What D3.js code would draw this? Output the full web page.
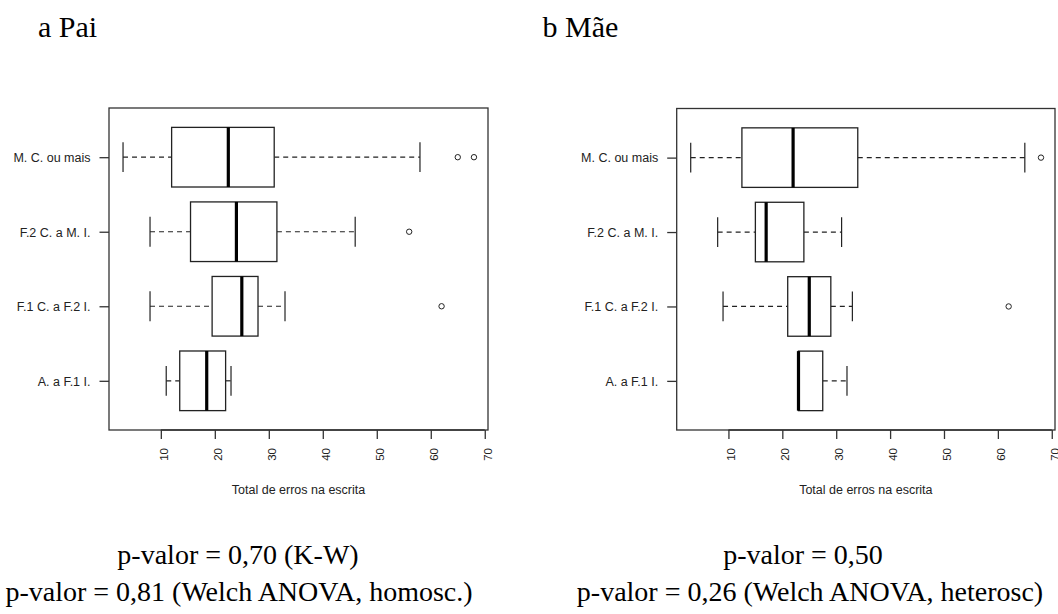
<!DOCTYPE html>
<html>
<head>
<meta charset="utf-8">
<script src="https://cdn.jsdelivr.net/npm/d3@7"></script>
<style>
  html, body { margin: 0; padding: 0; background: #fff; }
  svg { display: block; }
</style>
</head>
<body>
<svg id="chart" width="1058" height="614"></svg>
<script>
// ---------- data ----------
const categories = ["A. a F.1 I.", "F.1 C. a F.2 I.", "F.2 C. a M. I.", "M. C. ou mais"];
const xTicks = [10, 20, 30, 40, 50, 60, 70];

// Pai (father)
const paiLow    = [11, 8, 8, 3];
const paiQ1     = [13.5, 19.5, 15.5, 12];
const paiMedian = [18.5, 25, 24, 22.5];
const paiQ3     = [22, 28, 31.5, 31];
const paiHigh   = [23, 33, 46, 58];
const paiOut    = [[], [62], [56], [65, 68]];

// Mãe (mother)
const maeLow    = [23, 9, 8, 3];
const maeQ1     = [23, 21, 15, 12.5];
const maeMedian = [23, 25, 17, 22];
const maeQ3     = [27.5, 29, 24, 34];
const maeHigh   = [32, 33, 31, 65];
const maeOut    = [[], [62], [], [68]];

const panelTitles = ["a Pai", "b Mãe"];
const xLabel = "Total de erros na escrita";
const pLines = [
  ["p-valor = 0,70 (K-W)", "p-valor = 0,81 (Welch ANOVA, homosc.)"],
  ["p-valor = 0,50", "p-valor = 0,26 (Welch ANOVA, heterosc)"]
];

// ---------- drawing ----------
const svg = d3.select("#chart");
svg.append("rect").attr("width", 1058).attr("height", 614).attr("fill", "#fff");

const panels = [
  { left: 109, right: 488, top: 108, bottom: 430, titleX: 38, pCenters: [238, 239],
    low: paiLow, q1: paiQ1, med: paiMedian, q3: paiQ3, high: paiHigh, out: paiOut },
  { left: 676.7, right: 1055, top: 108.5, bottom: 430, titleX: 542.5, pCenters: [803, 810],
    low: maeLow, q1: maeQ1, med: maeMedian, q3: maeQ3, high: maeHigh, out: maeOut }
];

const lineCol = "#222";

panels.forEach((p, pi) => {
  const x = d3.scaleLinear().domain([0.4, 70.6]).range([p.left, p.right]);
  const y = d3.scaleLinear().domain([0.34, 4.66]).range([p.bottom, p.top]);
  const half = (y(0) - y(0.4));   // box half height (boxwex 0.8)
  const stapleHalf = half / 2;

  const g = svg.append("g");

  // boxes
  categories.forEach((c, i) => {
    const cy = y(i + 1);
    // whiskers (dashed)
    g.append("line").attr("x1", x(p.low[i])).attr("x2", x(p.q1[i]))
      .attr("y1", cy).attr("y2", cy)
      .attr("stroke", lineCol).attr("stroke-width", 1.2).attr("stroke-dasharray", "5,4");
    g.append("line").attr("x1", x(p.q3[i])).attr("x2", x(p.high[i]))
      .attr("y1", cy).attr("y2", cy)
      .attr("stroke", lineCol).attr("stroke-width", 1.2).attr("stroke-dasharray", "5,4");
    // staples
    [p.low[i], p.high[i]].forEach(v => {
      if (v === p.q1[i] || v === p.q3[i]) return;
      g.append("line").attr("x1", x(v)).attr("x2", x(v))
        .attr("y1", cy - stapleHalf).attr("y2", cy + stapleHalf)
        .attr("stroke", lineCol).attr("stroke-width", 1.2);
    });
    // box
    g.append("rect").attr("x", x(p.q1[i])).attr("y", cy - half)
      .attr("width", x(p.q3[i]) - x(p.q1[i])).attr("height", 2 * half)
      .attr("fill", "#fff").attr("stroke", lineCol).attr("stroke-width", 1.3);
    // median
    g.append("line").attr("x1", x(p.med[i])).attr("x2", x(p.med[i]))
      .attr("y1", cy - half).attr("y2", cy + half)
      .attr("stroke", "#000").attr("stroke-width", 3.2);
    // outliers
    p.out[i].forEach(v => {
      g.append("circle").attr("cx", x(v)).attr("cy", cy).attr("r", 2.7)
        .attr("fill", "none").attr("stroke", lineCol).attr("stroke-width", 1);
    });
  });

  // frame
  g.append("rect").attr("x", p.left).attr("y", p.top)
    .attr("width", p.right - p.left).attr("height", p.bottom - p.top)
    .attr("fill", "none").attr("stroke", "#333").attr("stroke-width", 1.3);

  // x axis
  const xAxis = d3.axisBottom(x).tickValues(xTicks).tickSize(9).tickSizeOuter(0).tickFormat(d3.format("d"));
  const xa = g.append("g").attr("transform", `translate(0,${p.bottom})`).call(xAxis);
  xa.select(".domain").attr("d", `M${x(xTicks[0])},0H${x(xTicks[xTicks.length - 1])}`)
    .attr("stroke", "#333").attr("stroke-width", 1.3);
  xa.selectAll(".tick line").attr("stroke", "#333").attr("stroke-width", 1.3);
  xa.selectAll(".tick text")
    .attr("font-family", "Liberation Sans, Arial, sans-serif").attr("font-size", 11.5)
    .attr("fill", "#222")
    .attr("text-anchor", "end")
    .attr("transform", "translate(2.5,18) rotate(-90)")
    .attr("x", 0).attr("y", 0).attr("dy", "0.35em");

  // y axis
  const yAxis = d3.axisLeft(y).tickValues([1, 2, 3, 4]).tickSize(9.5).tickSizeOuter(0)
    .tickFormat(d => categories[d - 1]);
  const ya = g.append("g").attr("transform", `translate(${p.left},0)`).call(yAxis);
  ya.select(".domain").remove();
  ya.selectAll(".tick line").attr("stroke", "#333").attr("stroke-width", 1.3);
  ya.selectAll(".tick text")
    .attr("font-family", "Liberation Sans, Arial, sans-serif").attr("font-size", 12.5)
    .attr("fill", "#222")
    .attr("x", -18.5).attr("dy", "0.35em");

  // x label
  g.append("text").attr("x", (p.left + p.right) / 2).attr("y", 494)
    .attr("text-anchor", "middle")
    .attr("font-family", "Liberation Sans, Arial, sans-serif").attr("font-size", 12.5)
    .attr("fill", "#222").text(xLabel);

  // panel title
  svg.append("text").attr("x", p.titleX).attr("y", 36.5)
    .attr("font-family", "Liberation Serif, Times New Roman, serif").attr("font-size", 30)
    .attr("fill", "#000").text(panelTitles[pi]);

  // p-value lines
  pLines[pi].forEach((t, k) => {
    svg.append("text").attr("x", p.pCenters[k]).attr("y", k === 0 ? 564 : 600.5)
      .attr("text-anchor", "middle")
      .attr("font-family", "Liberation Serif, Times New Roman, serif").attr("font-size", 28)
      .attr("fill", "#000").text(t);
  });
});
</script>
</body>
</html>
